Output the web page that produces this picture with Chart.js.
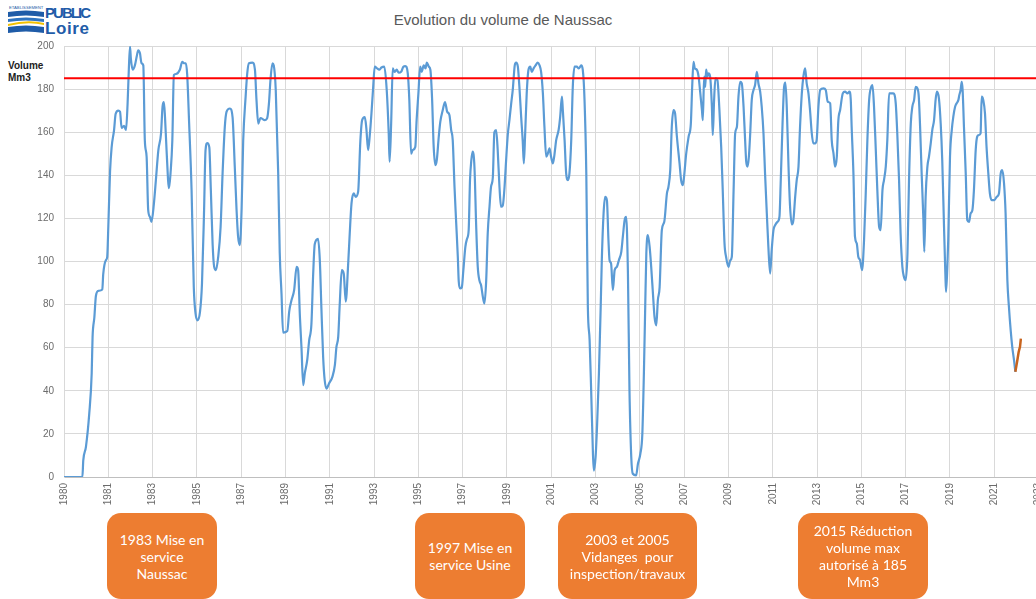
<!DOCTYPE html>
<html><head><meta charset="utf-8">
<script src="https://cdn.jsdelivr.net/npm/chart.js@4"></script>
<style>
html,body{margin:0;padding:0;background:#fff;width:1036px;height:599px;overflow:hidden;position:relative;}
#wrap{position:absolute;left:0;top:0;width:1050px;height:520px;}
#title{position:absolute;left:0;width:1006px;top:11px;text-align:center;font:15px "Liberation Sans",sans-serif;color:#595959;}
#ytitle{position:absolute;left:8px;top:60px;font:bold 10px "Liberation Sans",sans-serif;line-height:12px;color:#222;}
.box{position:absolute;top:513px;height:86px;background:#ED7D31;border-radius:14px;color:#fff;font:14px Lato,sans-serif;line-height:17px;display:flex;align-items:center;justify-content:center;text-align:center;}
#logo{position:absolute;left:6px;top:3px;width:90px;height:32px;}
</style></head>
<body>
<svg id="logo" viewBox="0 0 90 32" xmlns="http://www.w3.org/2000/svg">
  <text x="3" y="6" font-family="Liberation Sans Narrow, Liberation Sans, sans-serif" font-size="4.2" fill="#1f5ca8">ETABLISSEMENT</text>
  <path d="M2 9 Q20 6 38 9 L38 14 Q20 11 2 14 Z" fill="#1f5ca8"/>
  <path d="M2 16 Q20 13 38 16 L38 19 Q20 16 2 19 Z" fill="#2f74c0"/>
  <path d="M2 21 Q22 16 38 20 L38 22 Q22 18 2 23 Z" fill="#f2c200"/>
  <path d="M2 24 Q20 21 38 24 L38 30 Q20 27 2 30 Z" fill="#1f5ca8"/>
  <text x="39" y="15" font-family="Liberation Sans Narrow, Liberation Sans, sans-serif" font-weight="bold" font-size="15" fill="#1f5ca8" textLength="46">PUBLIC</text>
  <text x="39" y="31" font-family="Liberation Sans Narrow, Liberation Sans, sans-serif" font-weight="bold" font-size="17" fill="#1f5ca8" textLength="44">Loire</text>
</svg>
<div id="title">Evolution du volume de Naussac</div>
<div id="ytitle">Volume<br>Mm3</div>
<div id="wrap"><canvas id="c" width="1050" height="520"></canvas></div>
<div class="box" style="left:107px;width:110px;">1983 Mise en<br>service<br>Naussac</div>
<div class="box" style="left:415px;width:110px;">1997 Mise en<br>service Usine</div>
<div class="box" style="left:558px;width:139px;">2003 et 2005<br>Vidanges&nbsp; pour<br>inspection/travaux</div>
<div class="box" style="left:798px;width:130px;">2015 Réduction<br>volume max<br>autorisé à 185<br>Mm3</div>
<script>
// x tick positions (decimal years) and their printed labels
const tickPositions = [1979,1981,1983,1985,1987,1989,1991,1993,1995,1997,1999,2001,2003,2005,2007,2009,2011,2013,2015,2017,2019,2021,2023];
const tickLabels = ['1980','1981','1983','1985','1987','1989','1991','1993','1995','1997','1999','2001','2003','2005','2007','2009','2011','2013','2015','2017','2019','2021','2023'];
const yTickMin = 0, yTickMax = 200, yTickStep = 20;

// Volume of Naussac reservoir (Mm3), dates as decimal years
const volumeDates = [
1979.00,1979.83,1979.87,1979.99,1980.14,1980.25,1980.29,1980.37,1980.44,1980.55,1980.73,1980.77,1980.89,1980.95,
1981.00,1981.08,1981.15,1981.26,1981.33,1981.45,1981.53,1981.60,1981.71,1981.80,1981.87,1981.93,1981.98,
1982.02,1982.10,1982.20,1982.28,1982.35,1982.43,1982.50,1982.58,1982.65,1982.73,1982.80,1982.88,1982.95,
1983.06,1983.15,1983.26,1983.38,1983.45,1983.51,1983.56,1983.63,1983.74,1983.81,1983.89,1983.96,
1984.05,1984.23,1984.34,1984.41,1984.50,1984.56,1984.65,1984.76,1984.86,1984.94,
1985.03,1985.14,1985.23,1985.32,1985.39,1985.47,1985.56,1985.63,1985.71,1985.78,1985.86,1985.96,
1986.07,1986.16,1986.26,1986.34,1986.49,1986.61,1986.71,1986.79,1986.86,1986.94,
1987.02,1987.09,1987.20,1987.27,1987.35,1987.51,1987.62,1987.69,1987.77,1987.87,
1988.07,1988.17,1988.25,1988.32,1988.41,1988.47,1988.56,1988.67,1988.74,1988.82,1988.89,
1989.08,1989.17,1989.27,1989.39,1989.50,1989.57,1989.65,1989.72,1989.80,1989.87,1989.98,
1990.07,1990.17,1990.25,1990.32,1990.47,1990.55,1990.62,1990.70,1990.77,1990.85,1990.97,
1991.12,1991.23,1991.30,1991.38,1991.45,1991.54,1991.63,1991.72,1991.83,1991.90,1991.98,
1992.08,1992.17,1992.28,1992.38,1992.46,1992.58,1992.65,1992.73,1992.80,1992.88,1992.95,
1993.03,1993.14,1993.23,1993.33,1993.46,1993.57,1993.66,1993.70,1993.77,1993.84,1993.92,
1994.02,1994.11,1994.22,1994.32,1994.41,1994.52,1994.59,1994.67,1994.74,1994.86,1994.92,
1995.00,1995.08,1995.15,1995.24,1995.32,1995.38,1995.47,1995.54,1995.62,1995.69,1995.77,1995.83,1995.92,1995.99,
1996.10,1996.20,1996.30,1996.40,1996.48,1996.55,1996.63,1996.70,1996.78,1996.82,1996.88,1996.96,
1997.03,1997.12,1997.20,1997.27,1997.33,1997.39,1997.45,1997.53,1997.61,1997.68,1997.76,1997.83,1997.91,1997.98,
1998.06,1998.13,1998.21,1998.28,1998.36,1998.43,1998.51,1998.58,1998.66,1998.73,1998.81,1998.89,1998.96,
1999.04,1999.11,1999.19,1999.26,1999.35,1999.41,1999.49,1999.56,1999.64,1999.71,1999.76,1999.82,1999.89,1999.97,
2000.05,2000.12,2000.20,2000.29,2000.39,2000.47,2000.54,2000.62,2000.69,2000.77,2000.84,2000.92,2000.99,
2001.07,2001.14,2001.22,2001.33,2001.40,2001.48,2001.52,2001.60,2001.67,2001.75,2001.82,2001.90,2001.97,
2002.05,2002.15,2002.24,2002.35,2002.42,2002.50,2002.58,2002.65,2002.73,2002.80,2002.88,2002.92,
2003.00,2003.07,2003.15,2003.23,2003.28,2003.36,2003.43,2003.51,2003.58,2003.63,2003.70,2003.78,2003.86,2003.96,
2004.05,2004.16,2004.23,2004.31,2004.38,2004.46,2004.53,2004.61,2004.68,2004.83,2004.91,
2005.02,2005.11,2005.18,2005.24,2005.29,2005.36,2005.44,2005.51,2005.59,2005.66,2005.74,2005.81,2005.89,2005.99,
2006.10,2006.22,2006.29,2006.37,2006.44,2006.52,2006.59,2006.67,2006.79,2006.86,2006.94,
2007.00,2007.09,2007.20,2007.30,2007.36,2007.42,2007.48,2007.57,2007.65,2007.72,2007.80,2007.84,2007.90,2007.95,2007.99,
2008.05,2008.10,2008.17,2008.25,2008.29,2008.35,2008.41,2008.50,2008.59,2008.67,2008.74,2008.82,2008.89,
2009.00,2009.08,2009.15,2009.23,2009.30,2009.38,2009.45,2009.53,2009.60,2009.68,2009.75,2009.80,2009.86,2009.92,2009.98,
2010.05,2010.13,2010.20,2010.28,2010.35,2010.43,2010.50,2010.58,2010.65,2010.73,2010.80,2010.88,2010.95,
2011.03,2011.11,2011.21,2011.30,2011.36,2011.44,2011.51,2011.57,2011.63,2011.71,2011.78,2011.86,2011.93,
2012.01,2012.08,2012.16,2012.23,2012.31,2012.38,2012.46,2012.53,2012.61,2012.68,2012.76,2012.83,2012.91,2012.98,
2013.06,2013.14,2013.29,2013.39,2013.48,2013.59,2013.66,2013.74,2013.81,2013.89,2013.96,
2014.04,2014.16,2014.26,2014.37,2014.46,2014.52,2014.56,2014.64,2014.71,2014.79,2014.86,2014.94,
2015.03,2015.12,2015.20,2015.27,2015.35,2015.44,2015.50,2015.57,2015.65,2015.72,2015.80,2015.87,2015.95,
2016.02,2016.10,2016.17,2016.25,2016.32,2016.44,2016.55,2016.62,2016.70,2016.77,2016.85,2016.92,
2017.00,2017.08,2017.15,2017.23,2017.30,2017.38,2017.45,2017.53,2017.59,2017.65,2017.72,2017.80,2017.84,2017.90,2017.98,
2018.05,2018.13,2018.20,2018.28,2018.35,2018.41,2018.50,2018.58,2018.65,2018.73,2018.79,2018.82,2018.88,2018.92,
2019.00,2019.08,2019.15,2019.23,2019.30,2019.38,2019.42,2019.48,2019.53,2019.57,2019.63,2019.71,2019.78,2019.86,2019.93,
2020.01,2020.08,2020.16,2020.23,2020.31,2020.38,2020.43,2020.50,2020.58,2020.65,2020.73,2020.80,2020.88,
2021.00,2021.11,2021.21,2021.29,2021.36,2021.44,2021.51,2021.59,2021.66,2021.74,2021.81,2021.89,2021.95
];
const volumeValues = [
0,0,7.7,14,29.4,48,65,74,84,86.4,87,94,100.6,102,
116,142,153,161,168.4,170,169.5,162,163,161,173,190,199.7,
194,189,191,195,198,196.6,192,191,156,148.6,124,120.7,118.4,
127,138,151.7,159.4,172,174,167,151.7,134,141,156,186.5,
187,189,192.7,192,192,187,164,133,88,75.8,
72.7,76.6,89.8,122,151.7,155,153,133,108,97.5,96,102,
116,141,162.5,169.5,171,167,144,124,111.5,107.6,
125,156,176.5,187,192,192.3,189,175,164,166.6,
165.6,166.4,173,184,192,191,179.6,141,104,85,67,
67.7,77,82,86.7,97.5,96,74.5,60.4,42.6,48,54.2,
63.5,71,94.3,108,110.5,100.5,78.6,55.6,44.9,41,43.5,
46.6,52,60.4,65,80.5,96,94.3,81.4,99,113,127,
131.6,130,132.4,156,165.6,167,161.8,151.7,158,168.6,179.6,
190.4,189.6,189,190,190.4,179.6,159.4,146.3,164,189.6,188,
189,187.6,188,190.4,190.7,187.3,175,150,151.7,153.2,165.6,
178,190.4,188,191,189.6,192.3,190.4,189,175,153.2,144.7,147,158,164.9,
170.3,174,169.5,168,161,156.3,134.7,119.2,102,91,87.5,88,
96,106.8,110.7,114.6,137.8,147,151,144,116,97.5,91,89,83.6,80.5,
91,113,125.4,134.7,139,160,161,151.7,134.7,125.4,126,134.7,147,
159.4,165.6,173.4,179.6,191,192.3,190.4,181,167,156,145.5,159.4,178,189,
190.4,188,189.6,191,192.3,191,188,178,162.5,148.6,150,152.5,148.6,
145.5,149.4,156.3,161,167,176.5,170.3,156.3,141,137.8,141,156.3,181,
190.4,190.4,189.6,191,189,175,141,79,63.5,40,10.8,3,
9.3,24.8,48,79,100.6,122.3,130,128.5,110,100.6,99,86.7,96,97.5,
100.6,104.5,111.5,119.2,120.7,94.3,40,9.3,1.5,0.8,6,
10.8,20,48,79,103.7,112.2,106.8,97.5,85,74.3,70.4,82,88,114.6,
118.4,131.6,134.7,142.4,162.5,170.3,168.6,158,145.5,137.8,135.4,
140,150,158,164,181,192.7,189.6,189,185.8,178.8,170.3,165.6,185.8,181,189,
185.8,187.3,185.8,171.8,158.7,175,185,184.2,170.3,153.2,133,108.4,102.2,
97.5,100.6,102.2,133,159.4,162.5,176.5,183.4,182.7,171.8,156.3,146.3,144,148.6,159.4,
175,179.6,181.9,188,182.7,178.8,171.8,159.4,140.9,122.3,106.8,94.4,105.3,
114.6,116.9,118.4,120.7,137.8,164,181,183,171.8,144,125.4,117.2,119.2,
130,137.8,144,162.5,178,185.8,189.6,182.7,178,170.3,159.4,154.8,154.8,156.3,
171.8,179.6,180.3,179.6,174.1,173.4,156.3,150.2,144,148.6,165.6,
170.3,178,178.8,178,178.8,175,162.5,140.9,111.5,108.4,102.2,100.6,
96,110,133,156.3,175,181,181.9,171.8,151.7,133,116.1,114.6,133,
137.8,144,156.3,178,178,178,173.4,159.4,137.8,113,97.5,92.9,
91.3,103.7,137.8,164,171.8,175,181,180.3,176.5,162.5,140.9,119.2,104.5,130,144,
148.6,154.8,161,165.6,175,178.8,175.7,164,147,116.1,94.4,85.9,97.5,110,
148.6,161,167.2,171.8,173.4,175,177.2,179.6,183.4,179.6,162.5,140.9,119.2,118.4,122.3,
123.8,133,151.7,158,158.7,159.4,176.5,175,168.6,153.2,140.9,131.6,128.5,
128.5,130,131.6,140.9,142.4,136.2,122.3,91.3,79,68,60.4,54.2,48.8
];
// 2022 recent values (orange)
const recentDates = [2021.95,2022.04,2022.10,2022.16,2022.20];
const recentValues = [48.8,54.2,58,60.4,64.2];
// maximum authorised volume
const maxVolume = 185;

const xMin = tickPositions[0], xMax = tickPositions[tickPositions.length-1];
const toPts = (xs, ys) => xs.map((x,i)=>({x:x, y:ys[i]}));

new Chart(document.getElementById('c'), {
  type: 'line',
  data: {
    datasets: [
      {data: toPts([xMin, xMax],[maxVolume, maxVolume]), borderColor:'#FF0000', borderWidth:2, pointRadius:0, order:0},
      {data: toPts(recentDates, recentValues), borderColor:'#C8641E', borderWidth:2.5, pointRadius:0, order:1},
      {data: toPts(volumeDates, volumeValues), borderColor:'#5B9BD5', borderWidth:2.2, pointRadius:0, cubicInterpolationMode:'monotone', order:2}
    ]
  },
  options: {
    responsive:false, animation:false,
    layout:{padding:{top:46,left:0,right:11.4,bottom:0}},
    plugins:{legend:{display:false}, tooltip:{enabled:false}},
    scales:{
      x:{type:'linear', min:xMin, max:xMax,
        afterBuildTicks:(s)=>{ s.ticks = tickPositions.map(v=>({value:v})); },
        afterFit:(s)=>{ s.height = 43; s.paddingLeft = 0; s.paddingRight = 0; },
        ticks:{autoSkip:false, minRotation:90, maxRotation:90, padding:6, color:'#6b6b6b',
          font:{family:'Liberation Sans', size:10},
          callback:(v,i)=>tickLabels[i]},
        grid:{color:'#D9D9D9', lineWidth:1, drawTicks:false},
        border:{color:'#BFBFBF'}
      },
      y:{min:yTickMin, max:yTickMax,
        afterFit:(s)=>{ s.width = 64; s.paddingTop = 0; s.paddingBottom = 0; },
        ticks:{stepSize:yTickStep, padding:10, color:'#6b6b6b', font:{family:'Liberation Sans', size:10}},
        grid:{color:'#D9D9D9', lineWidth:1, drawTicks:false},
        border:{color:'#D9D9D9'}
      }
    }
  }
});
</script>
</body></html>
